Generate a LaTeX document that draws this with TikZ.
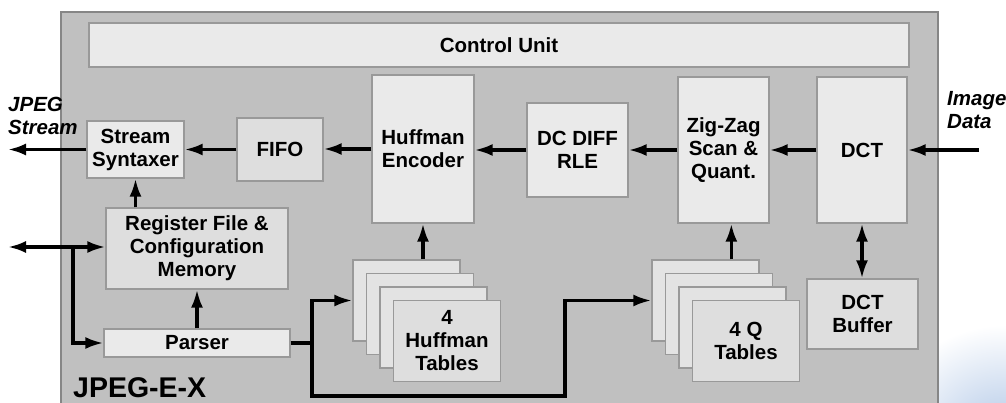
\documentclass[tikz,border=0pt]{standalone}
\usepackage{fontspec}
\setmainfont{Liberation Sans}
\usetikzlibrary{arrows.meta,calc}
\definecolor{framecol}{HTML}{868686}
\definecolor{bgcol}{HTML}{C0C0C0}
\definecolor{edgecol}{HTML}{999999}
\definecolor{litecol}{HTML}{EAEAEA}
\definecolor{midcol}{HTML}{DEDEDE}
\definecolor{skycol}{HTML}{AFC6E6}
\begin{document}
\begin{tikzpicture}[x=1pt,y=-1pt,
  font=\fontsize{20.5}{23}\selectfont\bfseries,
  blk/.style={draw=edgecol, line width=1.3pt, fill=litecol, align=center, inner sep=0pt},
  dblk/.style={blk, fill=midcol},
  arr/.style={line width=3.2pt, -{Latex[length=18pt,width=12pt]}},
  darr/.style={line width=3.2pt, {Latex[length=18pt,width=12pt]}-{Latex[length=18pt,width=12pt]}},
  lbl/.style={font=\fontsize{20.5}{23}\selectfont\bfseries\itshape, align=left, inner sep=0pt, anchor=west}]
\useasboundingbox (0,0) rectangle (1006,403);
% background decoration
\shade[inner color=skycol, outer color=white] (1005,440) ellipse [x radius=125, y radius=115];
% outer block
\draw[draw=framecol, line width=2.6pt, fill=bgcol] (61,12) rectangle (938,412);
% blocks
\node[blk, minimum width=820, minimum height=44] (cu) at (499,45) {Control Unit};
\node[blk, minimum width=97, minimum height=57] (ss) at (135.5,149.5) {Stream\\Syntaxer};
\node[dblk, minimum width=86, minimum height=63] (fifo) at (280,149.5) {FIFO};
\node[blk, minimum width=102, minimum height=148] (he) at (423,149) {Huffman\\Encoder};
\node[blk, minimum width=101, minimum height=94] (dc) at (577.5,150) {DC DIFF\\RLE};
\node[blk, minimum width=91, minimum height=146] (zz) at (723.5,150) {Zig-Zag\\Scan \&\\Quant.};
\node[blk, minimum width=90, minimum height=146] (dct) at (862,150) {DCT};
\node[dblk, minimum width=111, minimum height=70] (buf) at (862.5,314) {DCT\\Buffer};
\node[dblk, minimum width=182, minimum height=81] (rf) at (197,248.5) {Register File \&\\Configuration\\Memory};
\node[blk, minimum width=186, minimum height=28] (parser) at (197,343) {Parser};
% Huffman tables stack
\node[blk, fill=midcol!60!litecol, minimum width=107, minimum height=81] (ht1) at (406.5,300.5) {};
\node[blk, fill=midcol!60!litecol, minimum width=107, minimum height=81] (ht2) at (420,314) {};
\node[blk, fill=midcol!60!litecol, minimum width=107, minimum height=81] (ht3) at (433.5,327.5) {};
\node[dblk, minimum width=107, minimum height=81] (ht4) at (447,341) {4\\Huffman\\Tables};
% Q tables stack
\node[blk, fill=midcol!60!litecol, minimum width=107, minimum height=81] (qt1) at (705.5,300.5) {};
\node[blk, fill=midcol!60!litecol, minimum width=107, minimum height=81] (qt2) at (719,314) {};
\node[blk, fill=midcol!60!litecol, minimum width=107, minimum height=81] (qt3) at (732.5,327.5) {};
\node[dblk, minimum width=107, minimum height=81] (qt4) at (746,341) {4 Q\\Tables};
% labels
\node[lbl] (jl) at (8,116) {JPEG\\Stream};
\node[lbl] (il) at (947,110) {Image\\Data};
\node[font=\fontsize{28.5}{30}\selectfont\bfseries, inner sep=0pt, anchor=base west] (name) at (73,397) {JPEG-E-X};
% coordinates
\coordinate (jo) at (8,150);
\coordinate (ii) at (979,150);
\coordinate (lb) at (8,247);
\coordinate (j1) at (73,247);
\coordinate (j2) at (312,343);
\coordinate (j3) at (565,396);
\coordinate (qa) at ($(qt1.north west)+(80,0)$);
% main data path
\draw[arr] (ii) -- (dct.east);
\draw[arr] (dct.west) -- (dct.west -| zz.east);
\draw[arr] (zz.west) -- (zz.west -| dc.east);
\draw[arr] (dc.west) -- (dc.west -| he.east);
\draw[arr] (he.west) -- (he.west -| fifo.east);
\draw[arr] (fifo.west) -- (fifo.west -| ss.east);
\draw[arr] (ss.west) -- (ss.west -| jo);
% control paths
\draw[arr] (ss.south |- rf.north) -- (ss.south);
\draw[arr] (parser.north) -- (rf.south);
\draw[darr] (lb) -- (lb -| rf.west);
\draw[arr] (j1) |- (parser.west);
\draw[arr] (parser.east) -- (j2) |- (ht1.west);
\draw[arr] (j2) |- (j3) |- (qt1.west);
\draw[arr] (ht1.north -| he.south) -- (he.south);
\draw[arr] (qa) -- (qa |- zz.south);
\draw[darr] (dct.south) -- (dct.south |- buf.north);
\end{tikzpicture}
\end{document}
